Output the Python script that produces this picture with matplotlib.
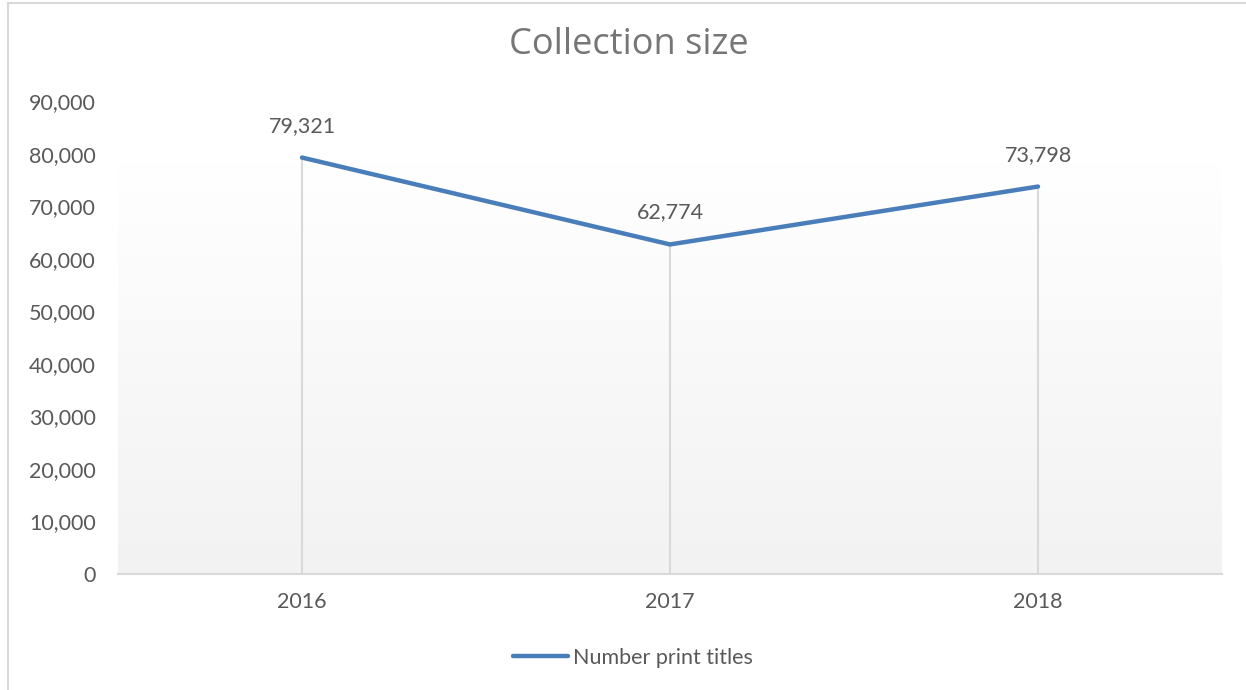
import numpy as np
import matplotlib
matplotlib.use("Agg")
import matplotlib.pyplot as plt
from matplotlib.ticker import FuncFormatter, MultipleLocator

# data
years = ["2016", "2017", "2018"]
print_titles = [79321, 62774, 73798]
series_name = "Number print titles"
title = "Collection size"

line_col = "#4A7EBB"
text_col = "#595959"
grid_col = "#D9D9D9"

plt.rcParams['font.family'] = ['Lato', 'DejaVu Sans']

fig = plt.figure(figsize=(12.46, 6.90), dpi=100)
W, H = 1246, 690
# axes in pixel terms: left 118, right 1222, top 101.5, bottom 574
ax = fig.add_axes([118 / W, 1 - 574 / H, (1222 - 118) / W, (574 - 101.5) / H])

x = np.arange(len(years))

# gradient background (only lower part of plot area, as in the original)
grad = np.linspace(0, 1, 256).reshape(-1, 1)
ax.imshow(grad, cmap=matplotlib.colors.LinearSegmentedColormap.from_list(
    "g", ["#F2F2F2", "#FFFFFF"]), aspect="auto", origin="lower",
    extent=[0, 1, 0, 0.87], transform=ax.transAxes, zorder=0)

# drop lines
ax.vlines(x, 0, print_titles, color=grid_col, lw=1.5, zorder=1)

ax.plot(x, print_titles, color=line_col, lw=3.2, solid_capstyle="round",
        solid_joinstyle="miter", zorder=3, label=series_name)

fs = 15.5
for xi, v in zip(x, print_titles):
    ax.annotate(f"{v:,}", (xi, v), xytext=(0, 23), textcoords="offset points",
                ha="center", va="center", fontsize=fs, color=text_col)

ax.set_xlim(-0.5, len(years) - 0.5)
ax.set_ylim(0, 90000)
ax.yaxis.set_major_locator(MultipleLocator(10000))
ax.yaxis.set_major_formatter(FuncFormatter(lambda v, p: f"{int(v):,}"))
ax.set_xticks(x)
ax.set_xticklabels(years)
ax.tick_params(axis="both", length=0, labelsize=fs, labelcolor=text_col)
ax.tick_params(axis="y", pad=16)
ax.tick_params(axis="x", pad=13)

for s in ["top", "right", "left"]:
    ax.spines[s].set_visible(False)
ax.spines["bottom"].set_color(grid_col)
ax.spines["bottom"].set_linewidth(1.5)
ax.spines["bottom"].set_zorder(2)
ax.set_facecolor("white")

fig.text(629 / W, 1 - 45 / H, title, ha="center", va="center",
         fontsize=26, color="#767676", family=["Open Sans", "DejaVu Sans"])

leg = fig.legend(loc="center", bbox_to_anchor=(633 / W, 1 - 658 / H),
                 frameon=False, fontsize=fs, handlelength=2.55, handletextpad=0.2,
                 labelcolor=text_col)

# chart border (left and top visible)
fig.add_artist(plt.Line2D([8 / W, 8 / W], [0, 1 - 3 / H], color=grid_col, lw=1.5))
fig.add_artist(plt.Line2D([8 / W, 1], [1 - 3 / H, 1 - 3 / H], color=grid_col, lw=1.5))

fig.savefig("out.png", dpi=100)
